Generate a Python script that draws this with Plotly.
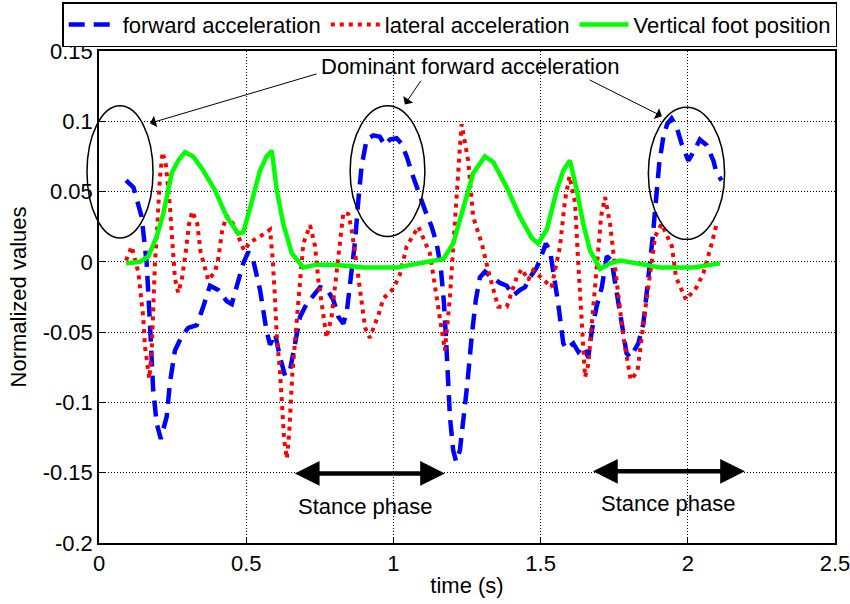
import plotly.graph_objects as go

# --- données ---
t_fwd = [0.092, 0.117, 0.145, 0.162, 0.173, 0.184, 0.196, 0.210, 0.230, 0.241, 0.258, 0.281,
         0.303, 0.332, 0.354, 0.377, 0.405, 0.434, 0.451, 0.468, 0.490, 0.507, 0.524, 0.547,
         0.569, 0.581, 0.598, 0.615, 0.632, 0.649, 0.666, 0.683, 0.705, 0.728, 0.751, 0.773,
         0.796, 0.813, 0.830, 0.842, 0.853, 0.870, 0.881, 0.892, 0.909, 0.932, 0.954, 0.971,
         0.988, 1.011, 1.028, 1.045, 1.068, 1.085, 1.107, 1.130, 1.147, 1.161, 1.172, 1.179,
         1.184, 1.192, 1.203, 1.213, 1.226, 1.237, 1.251, 1.266, 1.280, 1.294, 1.311, 1.334,
         1.362, 1.385, 1.407, 1.430, 1.447, 1.464, 1.487, 1.504, 1.518, 1.532, 1.543, 1.560,
         1.577, 1.588, 1.611, 1.628, 1.645, 1.662, 1.674, 1.690, 1.708, 1.725, 1.741, 1.758,
         1.776, 1.792, 1.804, 1.832, 1.849, 1.860, 1.869, 1.881, 1.892, 1.903, 1.917, 1.930,
         1.945, 1.962, 1.979, 2.002, 2.019, 2.041, 2.064, 2.087, 2.098, 2.115]
forward_acc = [0.058, 0.053, 0.032, -0.001, -0.044, -0.091, -0.115, -0.126, -0.110, -0.086, -0.063, -0.053,
               -0.047, -0.045, -0.032, -0.017, -0.020, -0.028, -0.030, -0.018, -0.001, 0.007, 0.001, -0.020,
               -0.049, -0.059, -0.051, -0.068, -0.081, -0.077, -0.058, -0.039, -0.030, -0.024, -0.018, -0.019,
               -0.027, -0.039, -0.044, -0.035, -0.015, 0.015, 0.044, 0.068, 0.087, 0.090, 0.089, 0.083,
               0.087, 0.088, 0.084, 0.075, 0.060, 0.049, 0.037, 0.025, 0.013, -0.004, -0.030, -0.056,
               -0.082, -0.110, -0.134, -0.142, -0.134, -0.115, -0.087, -0.053, -0.027, -0.011, -0.007, -0.011,
               -0.015, -0.017, -0.024, -0.020, -0.018, -0.011, -0.004, 0.005, 0.013, 0.008, -0.006, -0.030,
               -0.058, -0.062, -0.058, -0.064, -0.060, -0.068, -0.049, -0.032, -0.018, 0.004, 0.001, -0.020,
               -0.044, -0.065, -0.068, -0.058, -0.044, -0.025, -0.006, 0.018, 0.044, 0.070, 0.089, 0.098,
               0.102, 0.096, 0.084, 0.072, 0.078, 0.087, 0.083, 0.072, 0.063, 0.058]

t_lat = [0.092, 0.111, 0.134, 0.139, 0.150, 0.156, 0.171, 0.179, 0.184, 0.190, 0.196, 0.201,
         0.207, 0.216, 0.227, 0.241, 0.250, 0.258, 0.269, 0.281, 0.294, 0.306, 0.317, 0.334,
         0.345, 0.357, 0.371, 0.394, 0.405, 0.419, 0.434, 0.456, 0.473, 0.493, 0.513, 0.547,
         0.581, 0.590, 0.598, 0.604, 0.615, 0.623, 0.629, 0.638, 0.646, 0.652, 0.657, 0.672,
         0.685, 0.694, 0.717, 0.734, 0.745, 0.757, 0.773, 0.790, 0.801, 0.813, 0.830, 0.847,
         0.858, 0.870, 0.881, 0.892, 0.904, 0.920, 0.952, 0.966, 1.000, 1.022, 1.045, 1.085,
         1.124, 1.152, 1.175, 1.192, 1.209, 1.226, 1.232, 1.254, 1.271, 1.300, 1.328, 1.356,
         1.385, 1.419, 1.436, 1.458, 1.475, 1.509, 1.537, 1.566, 1.583, 1.598, 1.617, 1.628,
         1.639, 1.651, 1.662, 1.679, 1.692, 1.706, 1.719, 1.736, 1.758, 1.781, 1.806, 1.829,
         1.849, 1.870, 1.889, 1.911, 1.946, 1.960, 1.994, 2.030, 2.053, 2.081, 2.098]
lateral_acc = [0.001, 0.011, -0.008, -0.019, -0.039, -0.060, -0.083, -0.063, -0.029, -0.001, 0.018, 0.039,
               0.060, 0.078, 0.069, 0.039, 0.008, -0.012, -0.022, -0.013, 0.006, 0.027, 0.036, 0.027,
               0.007, -0.002, -0.013, -0.007, 0.002, 0.023, 0.033, 0.027, 0.018, 0.008, 0.014, 0.018,
               0.023, 0.002, -0.027, -0.053, -0.079, -0.105, -0.127, -0.140, -0.122, -0.098, -0.079, -0.041,
               -0.011, 0.013, 0.026, 0.011, -0.013, -0.032, -0.054, -0.039, -0.018, 0.006, 0.035, 0.034,
               0.023, 0.006, -0.011, -0.027, -0.047, -0.054, -0.036, -0.026, -0.019, -0.009, 0.011, 0.025,
               0.006, -0.032, -0.063, -0.025, 0.034, 0.082, 0.098, 0.072, 0.032, 0.013, -0.011, -0.032,
               -0.032, -0.011, -0.005, -0.013, -0.006, -0.013, -0.018, 0.011, 0.044, 0.061, 0.042, -0.001,
               -0.041, -0.082, -0.073, -0.034, 0.002, 0.033, 0.046, 0.027, -0.013, -0.053, -0.084, -0.078,
               -0.044, -0.010, 0.018, 0.027, 0.011, -0.011, -0.027, -0.018, -0.008, 0.013, 0.027]

t_foot = [0.092, 0.139, 0.168, 0.196, 0.218, 0.247, 0.269, 0.292, 0.320, 0.354, 0.394, 0.434,
          0.473, 0.490, 0.518, 0.547, 0.569, 0.587, 0.604, 0.626, 0.655, 0.694, 0.739, 0.785,
          0.853, 0.898, 1.011, 1.102, 1.170, 1.203, 1.237, 1.271, 1.311, 1.339, 1.385, 1.430,
          1.470, 1.492, 1.521, 1.555, 1.577, 1.600, 1.623, 1.645, 1.668, 1.702, 1.736, 1.770,
          1.826, 1.906, 2.019, 2.075, 2.109]
foot_pos = [-0.001, 0.000, 0.004, 0.018, 0.034, 0.063, 0.072, 0.078, 0.075, 0.065, 0.051, 0.032,
            0.020, 0.021, 0.042, 0.065, 0.075, 0.079, 0.051, 0.027, 0.006, -0.004, -0.002, -0.002,
            -0.003, -0.004, -0.004, -0.001, 0.002, 0.013, 0.037, 0.063, 0.075, 0.071, 0.053, 0.032,
            0.017, 0.013, 0.023, 0.051, 0.065, 0.072, 0.051, 0.027, 0.008, -0.005, -0.001, 0.001,
            -0.001, -0.004, -0.004, -0.002, -0.001]

y_ticks = [-0.2, -0.15, -0.1, -0.05, 0, 0.05, 0.1, 0.15]
y_labels = ["-0.2", "-0.15", "-0.1", "-0.05", "0", "0.05", "0.1", "0.15"]
x_ticks = [0, 0.5, 1, 1.5, 2, 2.5]
x_labels = ["0", "0.5", "1", "1.5", "2", "2.5"]

FONT = "Liberation Sans, Arial, sans-serif"
FS = 22

fig = go.Figure()
fig.add_trace(go.Scatter(x=t_fwd, y=forward_acc, mode="lines", name="forward acceleration",
                         line=dict(color="#0000ff", width=4.5, dash="16px,9px")))
fig.add_trace(go.Scatter(x=t_lat, y=lateral_acc, mode="lines", name="lateral acceleration",
                         line=dict(color="#ff0000", width=4, dash="4px,5px")))
fig.add_trace(go.Scatter(x=t_foot, y=foot_pos, mode="lines", name="Vertical foot position",
                         line=dict(color="#00ff00", width=4.5)))

# --- ellipses autour des pics ---
fig.add_shape(type="circle", xref="paper", yref="y", x0=-0.0163, x1=0.0734, y0=0.017, y1=0.111,
              line=dict(color="black", width=1.5))
fig.add_shape(type="circle", xref="x", yref="y", x0=0.853, x1=1.107, y0=0.018, y1=0.111,
              line=dict(color="black", width=1.5))
fig.add_shape(type="circle", xref="x", yref="y", x0=1.866, x1=2.125, y0=0.016, y1=0.110,
              line=dict(color="black", width=1.5))

# --- texte + flèches ---
fig.add_annotation(x=1.26, y=0.139, text="Dominant forward acceleration", showarrow=False,
                   font=dict(size=FS, color="black", family=FONT))
for hx, hy, tx, ty in [(0.173, 0.0986, 0.744, 0.134), (1.039, 0.112, 1.097, 0.130),
                       (1.912, 0.1036, 1.661, 0.130)]:
    fig.add_annotation(x=hx, y=hy, ax=tx, ay=ty, xref="x", yref="y", axref="x", ayref="y",
                       text="", showarrow=True, arrowhead=1, arrowsize=2, arrowwidth=1,
                       arrowcolor="black")

for x0, x1, y in [(0.66, 1.175, -0.1505), (1.673, 2.194, -0.149)]:
    fig.add_annotation(x=x1, y=y, ax=x0, ay=y, xref="x", yref="y", axref="x", ayref="y",
                       text="", showarrow=True, arrowhead=2, arrowside="end+start",
                       arrowsize=1.1, arrowwidth=4.5, arrowcolor="black")

fig.add_annotation(x=0.904, y=-0.174, text="Stance phase", showarrow=False,
                   font=dict(size=FS, color="black", family=FONT))
fig.add_annotation(x=1.936, y=-0.172, text="Stance phase", showarrow=False,
                   font=dict(size=FS, color="black", family=FONT))

axis_style = dict(showline=True, mirror=True, linecolor="black", linewidth=1.5,
                  showgrid=True, gridcolor="black", gridwidth=1, griddash="1px,2px",
                  zeroline=False, ticks="inside", ticklen=6, tickcolor="black",
                  ticklabeloverflow="allow",
                  tickfont=dict(size=FS, color="black", family=FONT))

fig.update_xaxes(range=[0, 2.5], tickvals=x_ticks, ticktext=x_labels,
                 title=dict(text="time (s)", font=dict(size=FS, color="black", family=FONT), standoff=2),
                 **axis_style)
fig.update_yaxes(range=[-0.2, 0.15], tickvals=y_ticks, ticktext=y_labels,
                 title=dict(text="Normalized values", font=dict(size=FS, color="black", family=FONT), standoff=10),
                 **axis_style)

fig.update_layout(
    width=850, height=604,
    margin=dict(l=99, r=15, t=51, b=61, autoexpand=False),
    plot_bgcolor="white", paper_bgcolor="white",
    font=dict(family=FONT, size=FS, color="black"),
    legend=dict(orientation="h", x=-0.05, y=1.099, xanchor="left", yanchor="top",
                bordercolor="black", borderwidth=1.5, bgcolor="white",
                font=dict(size=FS, color="black", family=FONT), itemwidth=49,
                tracegroupgap=0),
)

fig.write_html("out.html", config={"displayModeBar": False},
               post_script="document.body.style.margin = '0';")
